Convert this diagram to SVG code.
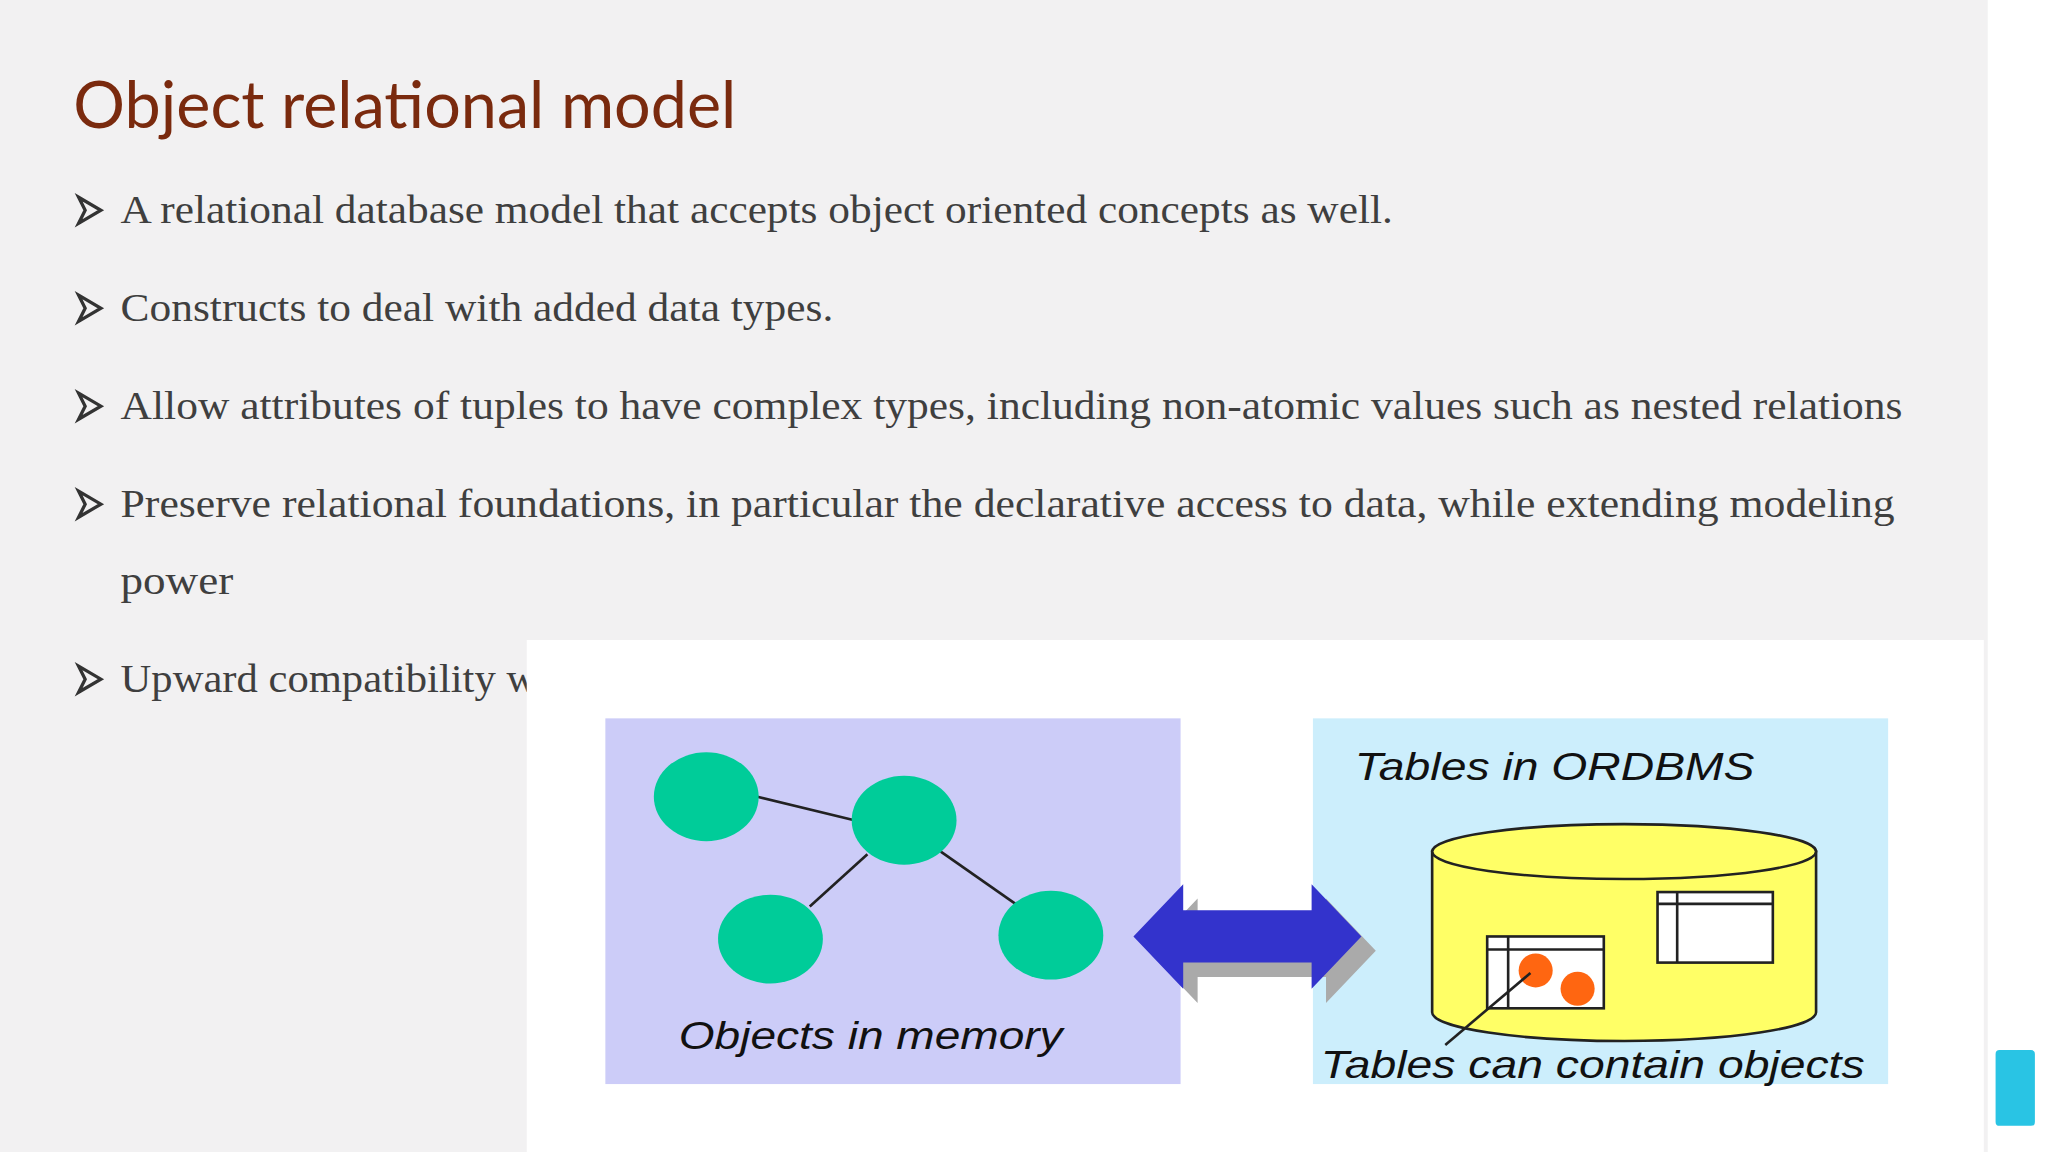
<svg xmlns="http://www.w3.org/2000/svg" width="2048" height="1152" viewBox="0 0 2048 1152">
<style>
.b{font-family:"Liberation Serif","DejaVu Serif",serif;font-size:30px;fill:#3f3f3f}
.d{font-family:"Liberation Sans",Arial,sans-serif;font-style:italic;font-size:30px;fill:#111}
.bul{fill:#f2f1f2;stroke:#333;stroke-width:2.5;stroke-linejoin:miter}
.obj{fill:#00CC99}
.ln{stroke:#222;stroke-width:2;fill:none}
</style>
<rect width="2048" height="1152" fill="#fff"/>
<g transform="scale(1.3103,1.3061)">
<rect x="0" y="0" width="1517" height="882" fill="#f2f1f2"/>
<text x="56" y="98" font-family="Lato,'Open Sans',sans-serif" font-size="50" fill="#7a2a0e" textLength="506" lengthAdjust="spacingAndGlyphs">Object relational model</text>
<g id="bullets">
<path class="bul" d="M60 151 L77 161 L60 171 L65 161 Z"/>
<text class="b" x="92" y="171" textLength="971" lengthAdjust="spacingAndGlyphs">A relational database model that accepts object oriented concepts as well.</text>
<path class="bul" d="M60 226 L77 236 L60 246 L65 236 Z"/>
<text class="b" x="92" y="246" textLength="544" lengthAdjust="spacingAndGlyphs">Constructs to deal with added data types.</text>
<path class="bul" d="M60 301 L77 311 L60 321 L65 311 Z"/>
<text class="b" x="92" y="321" textLength="1360" lengthAdjust="spacingAndGlyphs">Allow attributes of tuples to have complex types, including non-atomic values such as nested relations</text>
<path class="bul" d="M60 376 L77 386 L60 396 L65 386 Z"/>
<text class="b" x="92" y="396" textLength="1354" lengthAdjust="spacingAndGlyphs">Preserve relational foundations, in particular the declarative access to data, while extending modeling</text>
<text class="b" x="92" y="455" textLength="86" lengthAdjust="spacingAndGlyphs">power</text>
<path class="bul" d="M60 510 L77 520 L60 530 L65 520 Z"/>
<text class="b" x="92" y="530" textLength="318" lengthAdjust="spacingAndGlyphs">Upward compatibility w</text>
</g>
<rect x="402" y="490" width="1112" height="392" fill="#fff"/>
<g id="memory">
<rect x="462" y="550" width="439" height="280" fill="#ccccf8"/>
<line class="ln" x1="578" y1="610" x2="652" y2="628"/>
<line class="ln" x1="662" y1="654" x2="618" y2="694"/>
<line class="ln" x1="718" y1="652" x2="775" y2="692"/>
<ellipse class="obj" cx="539" cy="610" rx="40" ry="34"/>
<ellipse class="obj" cx="690" cy="628" rx="40" ry="34"/>
<ellipse class="obj" cx="588" cy="719" rx="40" ry="34"/>
<ellipse class="obj" cx="802" cy="716" rx="40" ry="34"/>
<text class="d" x="518" y="803" textLength="293" lengthAdjust="spacingAndGlyphs">Objects in memory</text>
</g>
<g id="ordbms">
<rect x="1002" y="550" width="439" height="280" fill="#cceefc"/>
<text class="d" x="1034" y="597" textLength="305" lengthAdjust="spacingAndGlyphs">Tables in ORDBMS</text>
<path d="M1093 652 L1093 775 A146.5 22 0 0 0 1386 775 L1386 652 Z" fill="#ffff66" stroke="#222" stroke-width="2"/>
<ellipse cx="1239.5" cy="652" rx="146.5" ry="21" fill="#ffff66" stroke="#222" stroke-width="2"/>
<rect x="1265" y="683" width="88" height="54" fill="#fff" stroke="#222" stroke-width="2"/>
<line class="ln" x1="1265" y1="692" x2="1353" y2="692"/>
<line class="ln" x1="1280" y1="683" x2="1280" y2="737"/>
<rect x="1135" y="717" width="89" height="55" fill="#fff" stroke="#222" stroke-width="2"/>
<line class="ln" x1="1135" y1="727" x2="1224" y2="727"/>
<line class="ln" x1="1151" y1="717" x2="1151" y2="772"/>
<circle cx="1172" cy="743" r="13" fill="#ff6611"/>
<circle cx="1204" cy="757" r="13" fill="#ff6611"/>
<line class="ln" x1="1103" y1="800" x2="1168" y2="745"/>
<text class="d" x="1008" y="825" textLength="415" lengthAdjust="spacingAndGlyphs">Tables can contain objects</text>
</g>
<g id="arrow">
<path d="M876 728 L914 688 L914 708 L1012 708 L1012 688 L1050 728 L1012 768 L1012 748 L914 748 L914 768 Z" fill="#aaaaaa"/>
<path d="M865 717 L903 677 L903 697 L1001 697 L1001 677 L1039 717 L1001 757 L1001 737 L903 737 L903 757 Z" fill="#3333cc"/>
</g>
<rect x="1523" y="804" width="30" height="58" rx="3" fill="#29c4e4"/>
</g>
</svg>
